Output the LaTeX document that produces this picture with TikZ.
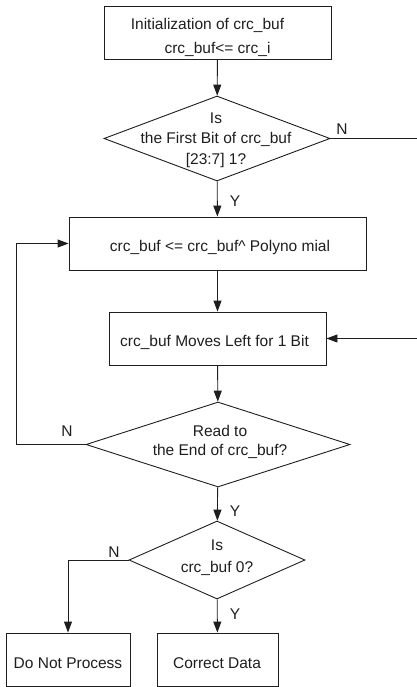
\documentclass[tikz,border=0pt]{standalone}
\usepackage{fontspec}
\setmainfont{Liberation Sans}
\usetikzlibrary{shapes.geometric,arrows.meta}
\definecolor{ink}{HTML}{1E1E1E}
\begin{document}
\begin{tikzpicture}[x=1pt,y=-1pt,
  font=\fontsize{15.5}{19}\selectfont,
  every node/.style={text=ink},
  procbox/.style={draw=ink,line width=0.9pt,rectangle,inner sep=0pt},
  decision/.style={draw=ink,line width=0.9pt,diamond,inner sep=0pt,minimum width=#1},
  flow/.style={draw=ink,line width=0.9pt,-{Triangle[length=11pt,width=8pt]}},
  caption/.style={align=center,inner sep=0pt},
  yn/.style={inner sep=0pt}]
\useasboundingbox (0,0) rectangle (416,687);

% process boxes
\node[procbox,minimum width=227pt,minimum height=53pt] (init) at (217.5,33) {};
\node[caption,font=\fontsize{15.5}{24}\selectfont] (initt) at (217.5,37)
  {Initialization of crc\_buf\hspace*{20pt}\\crc\_buf<= crc\_i};

\node[procbox,minimum width=297pt,minimum height=53pt] (xorb) at (217.5,243.5) {};
\node[caption] (xorbt) at (220,247)
  {crc\_buf <= crc\_buf\textasciicircum{} Polyno mial};

\node[procbox,minimum width=217pt,minimum height=53pt] (shift) at (217.5,338.5) {};
\node[caption] (shiftt) at (214.5,342.5) {crc\_buf Moves Left for 1 Bit};

\node[procbox,minimum width=124pt,minimum height=53pt] (nop) at (68,659.5) {};
\node[caption] (nopt) at (68,663) {Do Not Process};
\node[procbox,minimum width=121pt,minimum height=53pt] (ok) at (217.5,659.5) {};
\node[caption] (okt) at (217,663) {Correct Data};

% decisions
\node[decision=226pt,minimum height=85pt] (first) at (217,138.5) {};
\node[caption,font=\fontsize{15.5}{20.5}\selectfont] (firstt) at (216,140)
  {Is\\the First Bit of crc\_buf\\{}[23:7] 1?};

\node[decision=264pt,minimum height=85pt] (endq) at (218,444.5) {};
\node[caption,font=\fontsize{15.5}{19}\selectfont] (endqt) at (220,442)
  {Read to\\the End of crc\_buf?};

\node[decision=176pt,minimum height=78pt] (zero) at (217,560) {};
\node[caption,font=\fontsize{15.5}{22}\selectfont] (zerot) at (217,558)
  {Is\\crc\_buf 0?};

% turning points of the two feedback lines
\coordinate (rtop) at (422,138.5);
\coordinate (rbot) at (422,338.5);
\coordinate (lloop) at (16,444.5);

% connectors
\draw[flow] (init) -- (first);
\draw[flow] (first) -- (xorb);
\draw[flow] (xorb) -- (shift);
\draw[flow] (shift) -- (endq);
\draw[flow] (endq) -- (zero);
\draw[flow] (zero) -- (ok);
\draw[flow] (zero.west) -| (nop.north);
\draw[flow] (endq.west) -- (lloop) |- (xorb.west);
\draw[flow] (first.east) -- (rtop) -- (rbot) -- (shift.east);

% branch labels
\node[yn] (n1) at (342,129) {N};
\node[yn] (y1) at (235,201) {Y};
\node[yn] (n2) at (67,431) {N};
\node[yn] (y2) at (235,511) {Y};
\node[yn] (n3) at (114,552) {N};
\node[yn] (y3) at (235,614) {Y};
\end{tikzpicture}
\end{document}
